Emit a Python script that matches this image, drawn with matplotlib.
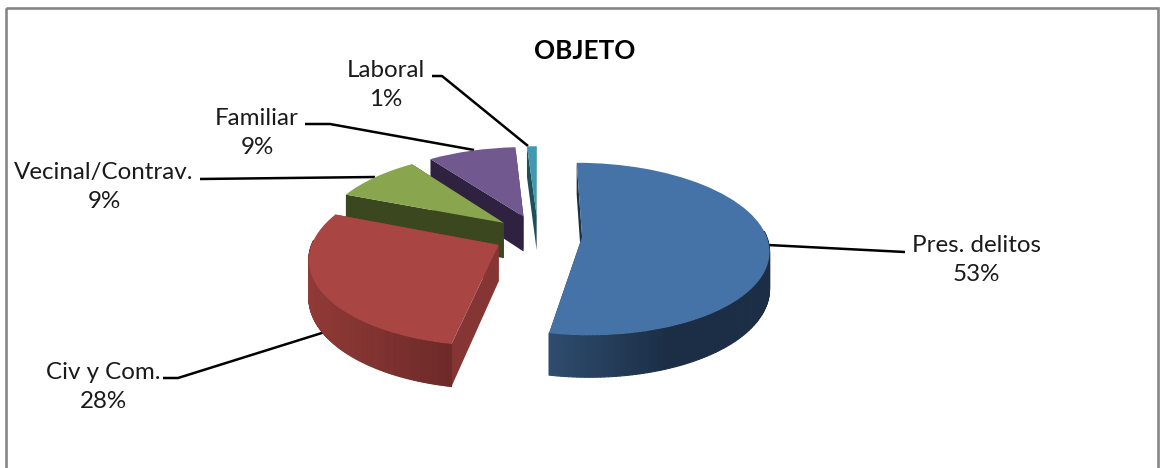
import numpy as np
import matplotlib
matplotlib.use("Agg")
import matplotlib.pyplot as plt
from matplotlib.collections import PolyCollection
from matplotlib.colors import to_rgb
from matplotlib.patches import Rectangle
from matplotlib.transforms import Transform

# ---- data ----
categories = ["Pres. delitos", "Civ y Com.", "Vecinal/Contrav.", "Familiar", "Laboral"]
values = [53, 28, 9, 9, 1]
percent_labels = ["53%", "28%", "9%", "9%", "1%"]
title_text = "OBJETO"

# ---- style ----
top_colors = ["#4573A7", "#A94542", "#89A54E", "#71588F", "#4198AF"]
cut_colors = ["#1C2F47", "#853533", "#3A471F", "#2E2240", "#1F4F5B"]
side_light = ["#2E4C6E", "#913A37", "#3A471F", "#2E2240", "#1F4F5B"]
side_dark = ["#1B2E46", "#6C2A28", "#3A471F", "#2E2240", "#1F4F5B"]
stack_order = [1, 4, 3, 2, 5]

W, H = 1162, 468
CX, CY, RX, RY, K, DEPTH = 538, 235, 184, 84, 0.14, 36
EXPLODE = 0.24


def project(pts):
    pts = np.asarray(pts, dtype=float)
    f = 1.0 / (1.0 + K * pts[..., 1])
    return np.stack([CX + RX * pts[..., 0] * f, CY - RY * pts[..., 1] * f], axis=-1), f


class Perspective(Transform):
    input_dims = output_dims = 2
    has_inverse = False
    is_separable = False

    def transform_non_affine(self, values):
        return project(values)[0]


fig = plt.figure(figsize=(W / 100, H / 100), dpi=100, facecolor="white")
ax = fig.add_axes([0, 0, 1, 1])

wedges, _ = ax.pie(values, startangle=90, counterclock=False,
                   explode=[EXPLODE] * len(values), colors=top_colors, radius=1)
ax.set_aspect("auto")
ax.set_xlim(0, W)
ax.set_ylim(H, 0)
ax.axis("off")

persp = Perspective() + ax.transData


def lerp(c1, c2, t):
    a, b = np.array(to_rgb(c1)), np.array(to_rgb(c2))
    return tuple(a + (b - a) * t)


for i, w in enumerate(wedges):
    z = stack_order[i] * 2
    cx, cy = w.center
    th = np.radians(np.linspace(w.theta1, w.theta2, 180))
    rim = np.stack([cx + np.cos(th), cy + np.sin(th)], axis=-1)
    rim_xy, rim_f = project(rim)
    low = rim_xy + np.stack([np.zeros_like(rim_f), DEPTH * rim_f], axis=-1)

    # the two flat cut faces (under the curved side)
    apex_xy, apex_f = project(np.array([cx, cy]))
    apex_low = apex_xy + np.array([0, DEPTH * apex_f])
    faces = [[apex_xy, rim_xy[k], low[k], apex_low] for k in (0, -1)]
    ax.add_collection(PolyCollection(faces, facecolors=cut_colors[i], edgecolors="none",
                                     zorder=z, clip_on=False))

    # outer curved side, only on the near half, shaded light left to dark right
    quads, cols = [], []
    xmin, xmax = rim_xy[:, 0].min(), rim_xy[:, 0].max()
    for j in range(len(th) - 1):
        if np.sin(th[j]) > 0.05 and np.sin(th[j + 1]) > 0.05:
            continue
        quads.append([rim_xy[j], rim_xy[j + 1], low[j + 1], low[j]])
        t = min(1.0, (rim_xy[j, 0] - xmin) / max(xmax - xmin, 1) * (1.9 if i == 0 else 1.0))
        cols.append(lerp(side_light[i], side_dark[i], t))
    if quads:
        ax.add_collection(PolyCollection(quads, facecolors=cols, edgecolors=cols,
                                         linewidths=0.8, zorder=z + 0.2, clip_on=False))

    # top face: the pie wedge seen through the tilt
    w.set_transform(persp)
    w.set_zorder(z + 0.5)
    w.set_clip_on(False)

# frame
ax.add_patch(Rectangle((5.5, 8), 1152, 470, fill=False, ec="#868686", lw=1.9, zorder=1, clip_on=True))

# labels and leader lines
FONT = "Lato"
FS = 17.4
label_pos = [(976, 260), (103, 387), (104, 187), (257, 133), (386, 85)]
leaders = [
    [(768, 245), (905, 252)],
    [(163, 378), (178, 378), (325, 332)],
    [(200, 179), (375, 177)],
    [(305, 124), (330, 124), (474, 150)],
    [(432, 76), (442, 76), (528, 146)],
]
for name, pct, (x, y), pts in zip(categories, percent_labels, label_pos, leaders):
    ax.text(x, y, f"{name}\n{pct}", ha="center", va="center", family=FONT, fontsize=FS,
            color="#1a1a1a", linespacing=1.52, zorder=30)
    p = np.array(pts)
    ax.plot(p[:, 0], p[:, 1], color="black", lw=1.8, zorder=1.5, solid_capstyle="butt")

ax.text(585, 51, title_text, ha="center", va="center", family=FONT, fontsize=18.8,
        fontweight="bold", color="black", zorder=30)

fig.savefig("out.png", dpi=100, facecolor="white")
